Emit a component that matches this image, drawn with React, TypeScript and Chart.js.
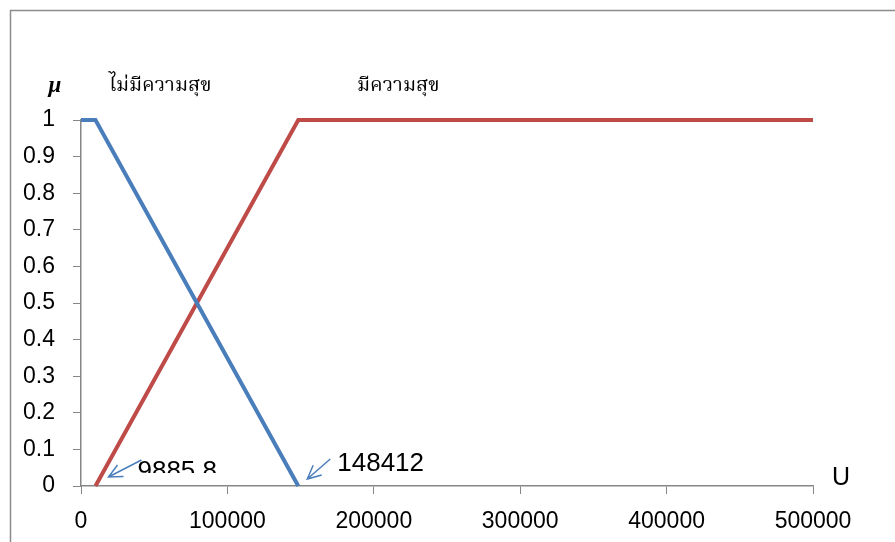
import React, { useEffect, useRef } from "react";
import { Chart, registerables } from "chart.js";

Chart.register(...registerables);

// Membership functions (U -> μ)
const unhappyU = [0, 9885.8, 148412];
const unhappyMu = [1, 1, 0];
const happyU = [9885.8, 148412, 500000];
const happyMu = [0, 1, 1];

const unhappyLabel = "ไม่มีความสุข";
const happyLabel = "มีความสุข";
const lowPointLabel = "9885.8";
const highPointLabel = "148412";

const xMin = 0;
const xMax = 500000;
const xStep = 100000;
const yMin = 0;
const yMax = 1;
const yStep = 0.1;

const BLUE = "#4A7EBB";
const RED = "#BE4B48";
const AXIS = "#868686";
const TICK_FONT = "'Liberation Sans', Arial, sans-serif";
const THAI_FONT = "'Noto Serif Thai', 'Noto Sans Thai', 'Tlwg Typo', 'Garuda', 'Loma', serif";

function drawArrow(ctx: CanvasRenderingContext2D, fx: number, fy: number, tx: number, ty: number) {
  const ang = Math.atan2(ty - fy, tx - fx);
  const head = 15;
  const spread = 0.45;
  ctx.beginPath();
  ctx.moveTo(fx, fy);
  ctx.lineTo(tx, ty);
  ctx.moveTo(tx - head * Math.cos(ang - spread), ty - head * Math.sin(ang - spread));
  ctx.lineTo(tx, ty);
  ctx.lineTo(tx - head * Math.cos(ang + spread), ty - head * Math.sin(ang + spread));
  ctx.stroke();
}

const decorations = {
  id: "decorations",
  afterDraw(chart: any) {
    const { ctx, chartArea } = chart;
    const xs = chart.scales.x;
    const ys = chart.scales.y;
    ctx.save();

    // frame
    ctx.strokeStyle = "#8c8c8c";
    ctx.lineWidth = 1.5;
    ctx.beginPath();
    ctx.moveTo(10.5, chart.height);
    ctx.lineTo(10.5, 10.5);
    ctx.lineTo(chart.width, 10.5);
    ctx.stroke();

    // axis titles
    ctx.fillStyle = "#000";
    ctx.textBaseline = "alphabetic";
    ctx.textAlign = "center";
    ctx.font = "bold italic 23px 'Liberation Serif', serif";
    ctx.fillText("μ", chartArea.left - 26, chartArea.top - 28);
    ctx.font = "25px " + TICK_FONT;
    ctx.fillText("U", chartArea.right + 28, chartArea.bottom - 1);

    // set names
    ctx.textAlign = "left";
    ctx.font = "20px " + THAI_FONT;
    ctx.fillText(unhappyLabel, chartArea.left + 28, chartArea.top - 29);
    ctx.fillText(happyLabel, chartArea.left + 276, chartArea.top - 29);

    // breakpoint callouts
    const y0 = ys.getPixelForValue(0);
    const pLow = xs.getPixelForValue(happyU[0]);
    const pHigh = xs.getPixelForValue(unhappyU[2]);

    ctx.strokeStyle = BLUE;
    ctx.lineWidth = 1.5;
    drawArrow(ctx, pLow + 46, y0 - 26, pLow + 13, y0 - 9);
    drawArrow(ctx, pHigh + 32, y0 - 27, pHigh + 9, y0 - 7);

    ctx.fillStyle = "#000";
    ctx.font = "26px " + TICK_FONT;
    ctx.fillText(highPointLabel, pHigh + 39, y0 - 15);

    ctx.save();
    ctx.beginPath();
    ctx.rect(pLow, y0 - 40, 200, 27);
    ctx.clip();
    ctx.fillText(lowPointLabel, pLow + 42, y0 - 7);
    ctx.restore();

    ctx.restore();
  },
};

export default function App() {
  const ref = useRef<HTMLCanvasElement | null>(null);

  useEffect(() => {
    if (!ref.current) return;
    const chart = new Chart(ref.current, {
      type: "scatter",
      data: {
        datasets: [
          {
            label: unhappyLabel,
            data: unhappyU.map((u, i) => ({ x: u, y: unhappyMu[i] })),
            showLine: true,
            borderColor: BLUE,
            backgroundColor: BLUE,
            borderWidth: 4,
            pointRadius: 0,
            borderCapStyle: "butt",
            borderJoinStyle: "miter",
            clip: false,
          },
          {
            label: happyLabel,
            data: happyU.map((u, i) => ({ x: u, y: happyMu[i] })),
            showLine: true,
            borderColor: RED,
            backgroundColor: RED,
            borderWidth: 4,
            pointRadius: 0,
            borderCapStyle: "butt",
            borderJoinStyle: "miter",
            clip: false,
          },
        ],
      },
      options: {
        animation: false,
        responsive: false,
        devicePixelRatio: 1,
        layout: { padding: { left: 10, top: 120, right: 82, bottom: 0 } },
        plugins: { legend: { display: false }, tooltip: { enabled: false } },
        scales: {
          x: {
            type: "linear",
            min: xMin,
            max: xMax,
            afterFit: (s: any) => {
              s.height = 56;
            },
            ticks: {
              stepSize: xStep,
              color: "#000",
              padding: 14,
              font: { family: TICK_FONT, size: 23 },
              callback: (v: any) => String(v),
            },
            grid: { drawOnChartArea: false, drawTicks: true, tickLength: 8, color: AXIS },
            border: { display: true, color: AXIS, width: 1.5 },
          },
          y: {
            type: "linear",
            min: yMin,
            max: yMax,
            afterFit: (s: any) => {
              s.width = 71;
            },
            ticks: {
              stepSize: yStep,
              color: "#000",
              padding: 18,
              font: { family: TICK_FONT, size: 23 },
              callback: (v: any) => String(Math.round(v * 10) / 10),
            },
            grid: { drawOnChartArea: false, drawTicks: true, tickLength: 8, color: AXIS },
            border: { display: true, color: AXIS, width: 1.5 },
          },
        },
      },
      plugins: [decorations],
    });
    return () => chart.destroy();
  }, []);

  return (
    <div style={{ position: "fixed", left: 0, top: 0, width: 895, height: 542, background: "#fff" }}>
      <canvas ref={ref} width={895} height={542} style={{ display: "block" }} />
    </div>
  );
}
